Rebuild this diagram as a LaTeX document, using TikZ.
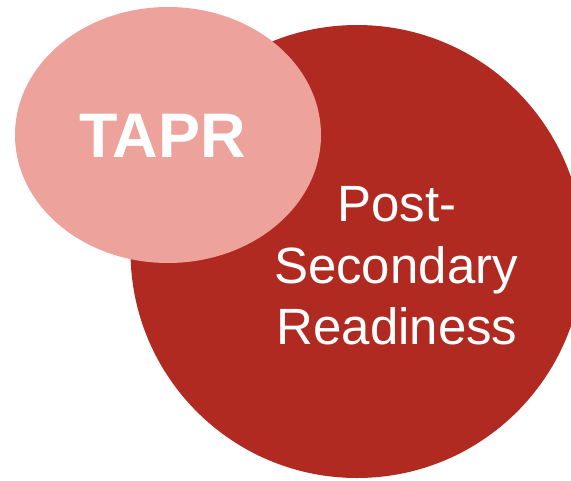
\documentclass[tikz,border=0pt]{standalone}
\usepackage{fontspec}
\setmainfont{Liberation Sans}
\definecolor{darkred}{HTML}{B02A21}
\definecolor{pinkish}{HTML}{EDA29B}
\begin{document}
\begin{tikzpicture}[x=1pt,y=1pt,
  bigtext/.style={text=white,font=\fontsize{51}{61}\selectfont,anchor=base,inner sep=0pt},
  tapr/.style={text=white,font=\fontsize{63}{70}\selectfont\bfseries,anchor=center,inner sep=0pt}]
\useasboundingbox (0,0) rectangle (571,-480);
\clip (0,0) rectangle (571,-480);
\fill[darkred] (357,-251.5) circle (226.5);
\fill[pinkish] (168,-135) ellipse [x radius=153, y radius=128];
\node[tapr] (t) at (162.5,-135.5) {TAPR};
\node[bigtext] (l1) at (397,-221.7) {Post-};
\node[bigtext] (l2) at (396,-283) {Secondary};
\node[bigtext] (l3) at (397,-344) {Readiness};
\end{tikzpicture}
\end{document}
